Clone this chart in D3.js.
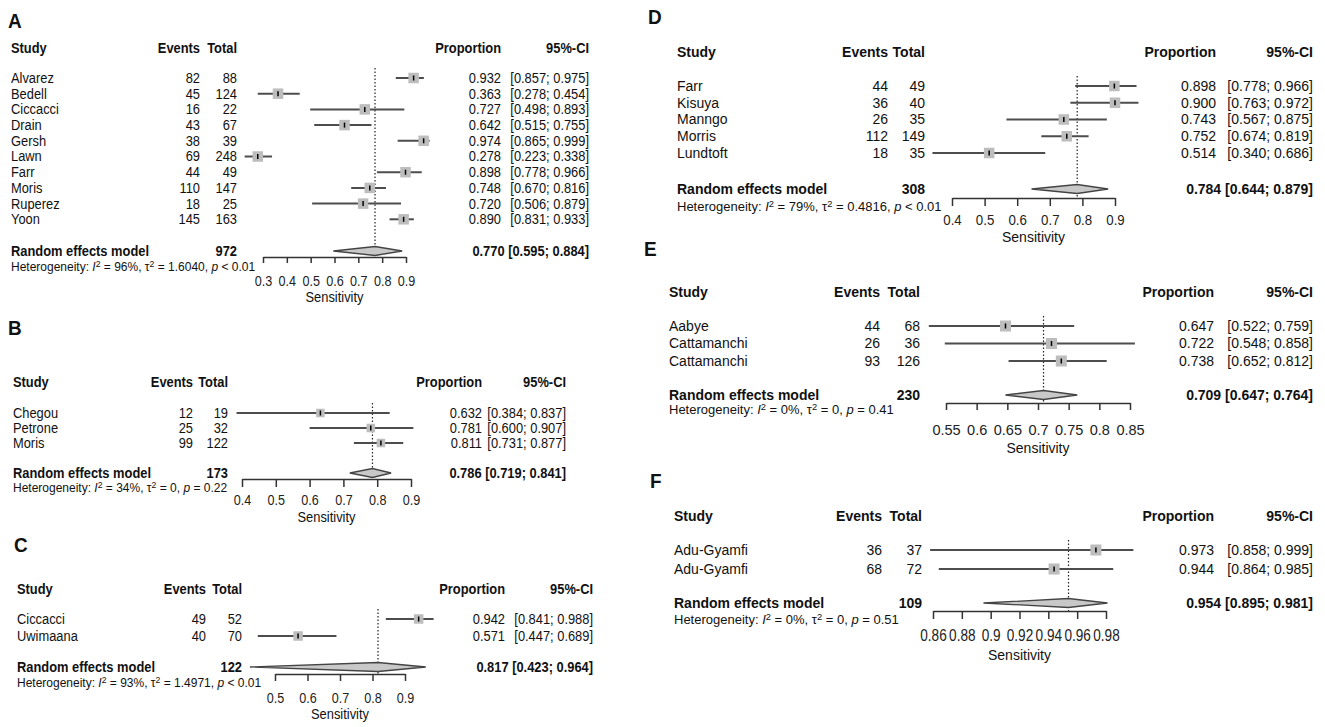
<!DOCTYPE html>
<html>
<head>
<meta charset="utf-8">
<script src="https://cdn.jsdelivr.net/npm/d3@7"></script>
<style>
  body { margin: 0; background: #fff; }
  svg { display: block; }
</style>
</head>
<body>
<script>
// ---- data ----
var studyA = ["Alvarez", "Bedell", "Ciccacci", "Drain", "Gersh", "Lawn", "Farr", "Moris", "Ruperez", "Yoon"];
var eventsA = [82, 45, 16, 43, 38, 69, 44, 110, 18, 145];
var totalA = [88, 124, 22, 67, 39, 248, 49, 147, 25, 163];
var propA = [0.932, 0.363, 0.727, 0.642, 0.974, 0.278, 0.898, 0.748, 0.720, 0.890];
var lowA = [0.857, 0.278, 0.498, 0.515, 0.865, 0.223, 0.778, 0.670, 0.506, 0.831];
var highA = [0.975, 0.454, 0.893, 0.755, 0.999, 0.338, 0.966, 0.816, 0.879, 0.933];
var pooledA = [0.770, 0.595, 0.884];
var nA = 972;
var hetA = ["96%", "1.6040", "< 0.01"];
var ticksA = [0.3, 0.4, 0.5, 0.6, 0.7, 0.8, 0.9];

var studyB = ["Chegou", "Petrone", "Moris"];
var eventsB = [12, 25, 99];
var totalB = [19, 32, 122];
var propB = [0.632, 0.781, 0.811];
var lowB = [0.384, 0.600, 0.731];
var highB = [0.837, 0.907, 0.877];
var pooledB = [0.786, 0.719, 0.841];
var nB = 173;
var hetB = ["34%", "0", "= 0.22"];
var ticksB = [0.4, 0.5, 0.6, 0.7, 0.8, 0.9];

var studyC = ["Ciccacci", "Uwimaana"];
var eventsC = [49, 40];
var totalC = [52, 70];
var propC = [0.942, 0.571];
var lowC = [0.841, 0.447];
var highC = [0.988, 0.689];
var pooledC = [0.817, 0.423, 0.964];
var nC = 122;
var hetC = ["93%", "1.4971", "< 0.01"];
var ticksC = [0.5, 0.6, 0.7, 0.8, 0.9];

var studyD = ["Farr", "Kisuya", "Manngo", "Morris", "Lundtoft"];
var eventsD = [44, 36, 26, 112, 18];
var totalD = [49, 40, 35, 149, 35];
var propD = [0.898, 0.900, 0.743, 0.752, 0.514];
var lowD = [0.778, 0.763, 0.567, 0.674, 0.340];
var highD = [0.966, 0.972, 0.875, 0.819, 0.686];
var pooledD = [0.784, 0.644, 0.879];
var nD = 308;
var hetD = ["79%", "0.4816", "< 0.01"];
var ticksD = [0.4, 0.5, 0.6, 0.7, 0.8, 0.9];

var studyE = ["Aabye", "Cattamanchi", "Cattamanchi"];
var eventsE = [44, 26, 93];
var totalE = [68, 36, 126];
var propE = [0.647, 0.722, 0.738];
var lowE = [0.522, 0.548, 0.652];
var highE = [0.759, 0.858, 0.812];
var pooledE = [0.709, 0.647, 0.764];
var nE = 230;
var hetE = ["0%", "0", "= 0.41"];
var ticksE = [0.55, 0.6, 0.65, 0.7, 0.75, 0.8, 0.85];

var studyF = ["Adu-Gyamfi", "Adu-Gyamfi"];
var eventsF = [36, 68];
var totalF = [37, 72];
var propF = [0.973, 0.944];
var lowF = [0.858, 0.864];
var highF = [0.999, 0.985];
var pooledF = [0.954, 0.895, 0.981];
var nF = 109;
var hetF = ["0%", "0", "= 0.51"];
var ticksF = [0.86, 0.88, 0.9, 0.92, 0.94, 0.96, 0.98];

// ---- panel layout (pixel positions, text squeeze per panel) ----
var panels = [
    { label: "A", lx: 8, ly: 28, study: studyA, events: eventsA, total: totalA, prop: propA, low: lowA, high: highA,
      pooled: pooledA, n: nA, het: hetA, ticks: ticksA,
      sx: 11, ex: 200, tx: 237, px: 501, cx: 589,
      headY: 48, row0: 78, rowStep: 15.7, remY: 251, hetY: 267, axisY: 257, tick: 6, labY: 283, sensY: 297,
      x0: 263, x1: 406, sq: 10.5, sqz: 0.92, tf: 14, tsq: 0.9 },
    { label: "B", lx: 8, ly: 335, study: studyB, events: eventsB, total: totalB, prop: propB, low: lowB, high: highB,
      pooled: pooledB, n: nB, het: hetB, ticks: ticksB,
      sx: 13, ex: 193, tx: 228, px: 482, cx: 566,
      headY: 382, row0: 413, rowStep: 15, remY: 473, hetY: 488, axisY: 479, tick: 8, labY: 502, sensY: 517,
      x0: 242, x1: 411, sq: 8.5, sqz: 0.92, tf: 14, tsq: 0.9 },
    { label: "C", lx: 14, ly: 552, study: studyC, events: eventsC, total: totalC, prop: propC, low: lowC, high: highC,
      pooled: pooledC, n: nC, het: hetC, ticks: ticksC,
      sx: 17, ex: 206, tx: 242, px: 505, cx: 593,
      headY: 589, row0: 619, rowStep: 17, remY: 667, hetY: 683, axisY: 674, tick: 7, labY: 700, sensY: 714,
      x0: 275, x1: 405, sq: 9.5, sqz: 0.92, tf: 14, tsq: 0.9 },
    { label: "D", lx: 648, ly: 24, study: studyD, events: eventsD, total: totalD, prop: propD, low: lowD, high: highD,
      pooled: pooledD, n: nD, het: hetD, ticks: ticksD,
      sx: 677, ex: 888, tx: 925, px: 1216, cx: 1313,
      headY: 52, row0: 86, rowStep: 16.75, remY: 189, hetY: 207, axisY: 198, tick: 8, labY: 222, sensY: 237,
      x0: 952, x1: 1115, sq: 10.5, sqz: 1.0, tf: 14, tsq: 0.95 },
    { label: "E", lx: 644, ly: 256, study: studyE, events: eventsE, total: totalE, prop: propE, low: lowE, high: highE,
      pooled: pooledE, n: nE, het: hetE, ticks: ticksE,
      sx: 669, ex: 880, tx: 920, px: 1214, cx: 1313,
      headY: 292, row0: 326, rowStep: 17.5, remY: 395, hetY: 410, axisY: 403, tick: 7, labY: 432, sensY: 448,
      x0: 946, x1: 1130, sq: 11, sqz: 1.0, tf: 14.5, tsq: 1.0 },
    { label: "F", lx: 650, ly: 488, study: studyF, events: eventsF, total: totalF, prop: propF, low: lowF, high: highF,
      pooled: pooledF, n: nF, het: hetF, ticks: ticksF,
      sx: 674, ex: 882, tx: 922, px: 1214, cx: 1313,
      headY: 516, row0: 550, rowStep: 19, remY: 603, hetY: 620, axisY: 611, tick: 8, labY: 638, sensY: 655,
      x0: 933, x1: 1106, sq: 11, sqz: 1.0, tf: 16, tsq: 0.85 }
];

var FONT = "'Liberation Sans', Arial, sans-serif";
var f3 = d3.format(".3f");
var fTick = d3.format("~g");

var svg = d3.select("body").append("svg")
    .attr("width", 1325)
    .attr("height", 727)
    .style("font-family", FONT);

svg.append("rect").attr("width", 1325).attr("height", 727).attr("fill", "#fff");

function txt(g, sq, x, y, s, anchor, size, bold) {
    return g.append("text")
        .attr("transform", "translate(" + x + "," + y + ") scale(" + sq + ",1)")
        .attr("dy", "0.35em")
        .attr("text-anchor", anchor || "start")
        .attr("font-size", size || 14)
        .attr("font-weight", bold ? "bold" : "normal")
        .attr("fill", "#111")
        .text(s);
}

panels.forEach(function (p) {
    var g = svg.append("g");
    var q = p.sqz;

    // panel letter
    g.append("text")
        .attr("transform", "translate(" + p.lx + "," + p.ly + ") scale(0.95,1)")
        .attr("font-size", 20).attr("font-weight", "bold")
        .attr("fill", "#111")
        .text(p.label);

    var x = d3.scaleLinear()
        .domain([p.ticks[0], p.ticks[p.ticks.length - 1]])
        .range([p.x0, p.x1]);

    var y = function (i) { return p.row0 + i * p.rowStep; };

    // header
    txt(g, q, p.sx, p.headY, "Study", "start", 14, true);
    txt(g, q, p.ex, p.headY, "Events", "end", 14, true);
    txt(g, q, p.tx, p.headY, "Total", "end", 14, true);
    txt(g, q, p.px, p.headY, "Proportion", "end", 14, true);
    txt(g, q, p.cx, p.headY, "95%-CI", "end", 14, true);

    // reference line at pooled estimate
    g.append("line")
        .attr("x1", x(p.pooled[0])).attr("x2", x(p.pooled[0]))
        .attr("y1", y(0) - 10).attr("y2", p.axisY)
        .attr("stroke", "#222").attr("stroke-width", 1.2)
        .attr("stroke-dasharray", "1.5,2");

    // study rows
    p.study.forEach(function (s, i) {
        var yy = y(i);
        txt(g, q, p.sx, yy, s);
        txt(g, q, p.ex, yy, p.events[i], "end");
        txt(g, q, p.tx, yy, p.total[i], "end");
        txt(g, q, p.px, yy, f3(p.prop[i]), "end");
        txt(g, q, p.cx, yy, "[" + f3(p.low[i]) + "; " + f3(p.high[i]) + "]", "end");

        g.append("line")
            .attr("x1", x(p.low[i])).attr("x2", x(p.high[i]))
            .attr("y1", yy).attr("y2", yy)
            .attr("stroke", "#4d4d4d").attr("stroke-width", 2);
        g.append("rect")
            .attr("x", x(p.prop[i]) - p.sq / 2).attr("y", yy - p.sq / 2)
            .attr("width", p.sq).attr("height", p.sq)
            .attr("fill", "#bdbdbd");
        g.append("line")
            .attr("x1", x(p.prop[i])).attr("x2", x(p.prop[i]))
            .attr("y1", yy - 2.5).attr("y2", yy + 2.5)
            .attr("stroke", "#000").attr("stroke-width", 1.5);
    });

    // random effects model
    txt(g, q, p.sx, p.remY, "Random effects model", "start", 14, true);
    txt(g, q, p.tx, p.remY, p.n, "end", 14, true);
    txt(g, q, p.cx, p.remY, f3(p.pooled[0]) + " [" + f3(p.pooled[1]) + "; " + f3(p.pooled[2]) + "]", "end", 14, true);

    var dh = 4.5;
    g.append("polygon")
        .attr("points", [
            [x(p.pooled[1]), p.remY],
            [x(p.pooled[0]), p.remY - dh],
            [x(p.pooled[2]), p.remY],
            [x(p.pooled[0]), p.remY + dh]
        ].map(function (d) { return d.join(","); }).join(" "))
        .attr("fill", "#c8c8c8")
        .attr("stroke", "#444").attr("stroke-width", 1.3);

    // heterogeneity line
    var ht = g.append("text")
        .attr("transform", "translate(" + p.sx + "," + p.hetY + ") scale(" + (q + 0.04) + ",1)")
        .attr("dy", "0.35em")
        .attr("font-size", 12.5).attr("fill", "#111");
    ht.append("tspan").text("Heterogeneity: ");
    ht.append("tspan").attr("font-style", "italic").text("I");
    ht.append("tspan").attr("dy", -4).attr("font-size", 9).text("2");
    ht.append("tspan").attr("dy", 4).text(" = " + p.het[0] + ", \u03c4");
    ht.append("tspan").attr("dy", -4).attr("font-size", 9).text("2");
    ht.append("tspan").attr("dy", 4).text(" = " + p.het[1] + ", ");
    ht.append("tspan").attr("font-style", "italic").text("p");
    ht.append("tspan").text(" " + p.het[2]);

    // axis
    var axis = d3.axisBottom(x)
        .tickValues(p.ticks)
        .tickFormat(fTick)
        .tickSizeInner(p.tick)
        .tickSizeOuter(0)
        .tickPadding(p.labY - p.axisY - p.tick - p.tf / 2);
    var ag = g.append("g")
        .attr("transform", "translate(0," + p.axisY + ")")
        .call(axis);
    ag.select(".domain").attr("stroke", "#333").attr("stroke-width", 1.5);
    ag.selectAll(".tick line").attr("stroke", "#333").attr("stroke-width", 1.5);
    ag.selectAll(".tick text")
        .attr("transform", "scale(" + p.tsq + ",1)")
        .attr("font-family", FONT)
        .attr("font-size", p.tf)
        .attr("fill", "#222");

    txt(g, q, (p.x0 + p.x1) / 2, p.sensY, "Sensitivity", "middle", 14);
});
</script>
</body>
</html>
